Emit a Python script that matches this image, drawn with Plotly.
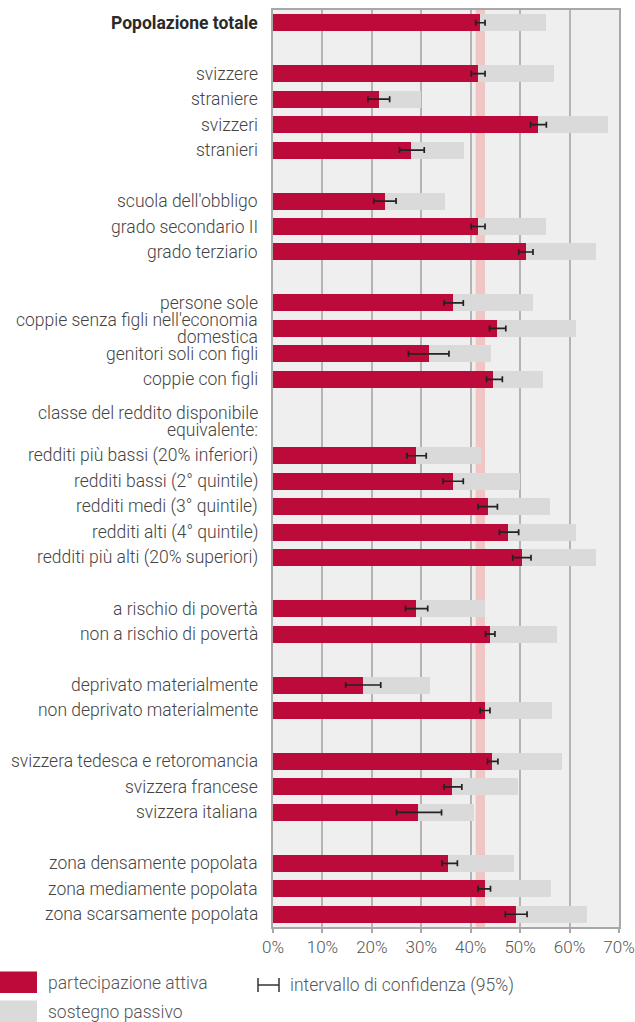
import plotly.graph_objects as go

# ---- data ----
labels = [
    "<b>Popolazione totale</b>", "",
    "svizzere", "straniere", "svizzeri", "stranieri", "",
    "scuola dell'obbligo", "grado secondario II", "grado terziario", "",
    "persone sole", "coppie senza figli nell'economia<br>domestica",
    "genitori soli con figli", "coppie con figli", "", "",
    "redditi più bassi (20% inferiori)", "redditi bassi (2° quintile)",
    "redditi medi (3° quintile)", "redditi alti (4° quintile)",
    "redditi più alti (20% superiori)", "",
    "a rischio di povertà", "non a rischio di povertà", "",
    "deprivato materialmente", "non deprivato materialmente", "",
    "svizzera tedesca e retoromancia", "svizzera francese", "svizzera italiana", "",
    "zona densamente popolata", "zona mediamente popolata", "zona scarsamente popolata",
]
group_label = "classe del reddito disponibile<br>equivalente:"

active = [41.8, None, 41.4, 21.5, 53.7, 28.0, None, 22.7, 41.4, 51.1, None,
          36.5, 45.4, 31.5, 44.6, None, None, 29.0, 36.5, 43.4, 47.6, 50.3, None,
          29.0, 43.8, None, 18.2, 42.8, None, 44.3, 36.3, 29.4, None, 35.5, 42.8, 49.1]
passive = [13.5, None, 15.5, 8.4, 14.0, 10.7, None, 12.0, 13.9, 14.2, None,
           16.2, 15.8, 12.7, 10.1, None, None, 13.0, 13.4, 12.6, 13.6, 15.0, None,
           13.9, 13.6, None, 13.5, 13.6, None, 14.1, 13.2, 11.2, None, 13.2, 13.4, 14.5]
ci_low = [41.0, None, 40.1, 19.2, 52.1, 25.6, None, 20.4, 40.1, 49.7, None,
          34.6, 43.8, 27.4, 43.2, None, None, 27.1, 34.4, 41.5, 45.8, 48.5, None,
          26.8, 43.0, None, 14.7, 41.9, None, 43.4, 34.6, 25.0, None, 34.2, 41.5, 47.0]
ci_high = [42.9, None, 42.9, 23.6, 55.3, 30.6, None, 24.9, 42.9, 52.6, None,
           38.5, 47.1, 35.6, 46.4, None, None, 31.0, 38.5, 45.4, 49.7, 52.2, None,
           31.3, 44.9, None, 21.8, 43.9, None, 45.5, 38.2, 34.1, None, 37.3, 44.0, 51.4]
x_ticks = [0, 10, 20, 30, 40, 50, 60, 70]
x_ticktext = ["0%", "10%", "20%", "30%", "40%", "50%", "60%", "70%"]

# ---- geometry (body margin removed by post_script) ----
W, H = 635, 1022
ML, MT = 273, 10
MR = W - 619
MB = H - 927
pw, ph = W - ML - MR, H - MT - MB
SLOT_PX = ph / 36.0


def px_x(px):
    return (px - ML) / pw


def px_y(py):
    return (H - MB - py) / ph


def px_to_slot(py):
    return (py - MT) / SLOT_PX - 0.5


slots = list(range(len(labels)))
idx = [i for i in slots if active[i] is not None]
ya = [slots[i] for i in idx]
xa = [active[i] for i in idx]
xp = [passive[i] for i in idx]
e_plus = [round(ci_high[i] - active[i], 2) for i in idx]
e_minus = [round(active[i] - ci_low[i], 2) for i in idx]

RED = "#bc0a3b"
GREY = "#d9dad9"
TXT = "#555555"
LBL = "#444444"
FONT = "Roboto"
FS = 17.5

fig = go.Figure()
fig.add_trace(go.Bar(
    y=ya, x=xa, orientation="h", width=0.667, marker=dict(color=RED, line=dict(width=0)),
    name="partecipazione attiva",
))
fig.add_trace(go.Bar(
    y=ya, x=xp, orientation="h", width=0.667, marker=dict(color=GREY, line=dict(width=0)),
    name="sostegno passivo",
))
fig.add_trace(go.Scatter(
    y=ya, x=xa, mode="markers", marker=dict(size=1, color="rgba(0,0,0,0)"),
    hoverinfo="skip", name="intervallo di confidenza (95%)",
    error_x=dict(type="data", array=e_plus, arrayminus=e_minus, symmetric=False,
                 color="#222222", thickness=1.7, width=3),
))

# band = confidence interval of total population
fig.add_shape(type="rect", xref="x", yref="paper", x0=ci_low[0], x1=ci_high[0], y0=0, y1=1,
              fillcolor="#f2c5c5", line=dict(width=0), layer="below")

# category labels (annotations; two-line labels are set line by line, tightly spaced)
lab_font = dict(family=FONT, size=FS, color=LBL, weight=300)


def add_label(text, y, font):
    fig.add_annotation(text=text, xref="paper", yref="y", x=0, y=y, xanchor="right",
                       yanchor="middle", xshift=-13, showarrow=False, font=font)


for s in slots:
    t = labels[s]
    if not t:
        continue
    if "<br>" in t:
        l1, l2 = t.split("<br>")
        add_label(l1, s - 0.33, lab_font)
        add_label(l2, s + 0.33, lab_font)
    elif t.startswith("<b>"):
        add_label(t, s, dict(family=FONT, size=FS, color="#2a2a2a", weight=400))
    else:
        add_label(t, s, lab_font)
g1, g2 = group_label.split("<br>")
add_label(g1, px_to_slot(413), lab_font)
add_label(g2, px_to_slot(430), lab_font)

# legend swatches
fig.add_shape(type="rect", xref="paper", yref="paper", x0=px_x(0), x1=px_x(37),
              y0=px_y(971.5), y1=px_y(993), fillcolor=RED, line=dict(width=0))
fig.add_shape(type="rect", xref="paper", yref="paper", x0=px_x(0), x1=px_x(37),
              y0=px_y(1000.5), y1=px_y(1022), fillcolor=GREY, line=dict(width=0))
ecol = "#333333"
fig.add_shape(type="line", xref="paper", yref="paper", x0=px_x(258), x1=px_x(279),
              y0=px_y(985), y1=px_y(985), line=dict(color=ecol, width=1.5))
for xx in (258, 279):
    fig.add_shape(type="line", xref="paper", yref="paper", x0=px_x(xx), x1=px_x(xx),
                  y0=px_y(978), y1=px_y(992), line=dict(color=ecol, width=1.5))

legend_font = dict(family=FONT, size=FS, color=TXT, weight=300)
for txt, x, y in [("partecipazione attiva", 46, 983), ("sostegno passivo", 46, 1012),
                  ("intervallo di confidenza (95%)", 288, 985)]:
    fig.add_annotation(text=txt, xref="paper", yref="paper", x=px_x(x), y=px_y(y),
                       xanchor="left", yanchor="middle", showarrow=False, font=legend_font)

fig.update_layout(
    width=W, height=H, margin=dict(l=ML, r=MR, t=MT, b=MB, autoexpand=False),
    barmode="stack", showlegend=False,
    paper_bgcolor="white", plot_bgcolor="#efefef",
    font=dict(family=FONT, size=FS, color=TXT, weight=300),
    xaxis=dict(range=[0, 70], tickvals=x_ticks, ticktext=x_ticktext,
               showgrid=True, gridcolor="#b4b4b4", gridwidth=1.5,
               showline=True, linecolor="#a8a8a8", linewidth=1.5, mirror=True,
               ticks="outside", ticklen=4, tickcolor="#a8a8a8", tickwidth=1.5,
               zeroline=False, fixedrange=True, automargin=False,
               tickfont=dict(family=FONT, size=17, color=TXT, weight=300)),
    yaxis=dict(range=[35.5, -0.5], showticklabels=False,
               showgrid=False, zeroline=False, automargin=False,
               showline=True, linecolor="#a8a8a8", linewidth=1.5, mirror=True,
               ticks="", fixedrange=True),
)

fig.write_html("out.html", config={"displayModeBar": False},
               post_script="document.body.style.margin='0';")
